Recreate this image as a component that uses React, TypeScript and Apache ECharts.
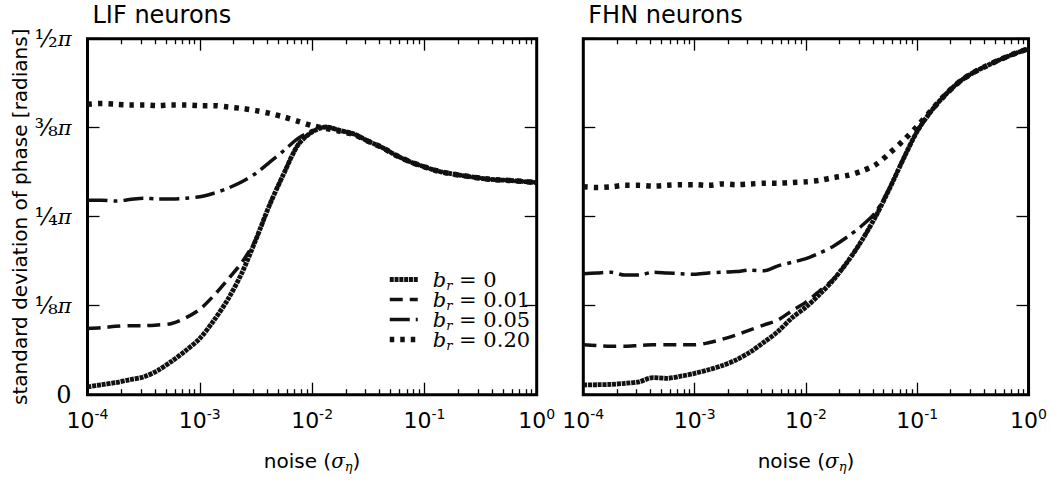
import React, { useEffect, useRef } from "react";
import * as echarts from "echarts";

// noise level sigma_eta (1/8-decade grid)
const noise = [
  1e-4, 1.33e-4, 1.78e-4, 2.37e-4, 3.16e-4, 4.22e-4, 5.62e-4, 7.5e-4,
  1e-3, 1.33e-3, 1.78e-3, 2.37e-3, 3.16e-3, 4.22e-3, 5.62e-3, 7.5e-3,
  1e-2, 1.33e-2, 1.78e-2, 2.37e-2, 3.16e-2, 4.22e-2, 5.62e-2, 7.5e-2,
  0.1, 0.133, 0.178, 0.237, 0.316, 0.422, 0.562, 0.75, 1,
];

// standard deviation of phase, in units of pi
const lifBr0 = [
  0.011, 0.014, 0.017, 0.021, 0.025, 0.034, 0.047, 0.062,
  0.079, 0.104, 0.134, 0.171, 0.218, 0.268, 0.311, 0.351,
  0.369, 0.376, 0.371, 0.366, 0.356, 0.347, 0.336, 0.327,
  0.32, 0.314, 0.31, 0.307, 0.304, 0.302, 0.301, 0.2995, 0.298,
];
const lifBr001 = [
  0.093, 0.094, 0.096, 0.097, 0.097, 0.098, 0.1, 0.108,
  0.12, 0.139, 0.162, 0.186, 0.218, 0.268, 0.311, 0.351,
  0.369, 0.376, 0.371, 0.366, 0.356, 0.347, 0.336, 0.327,
  0.32, 0.314, 0.31, 0.307, 0.304, 0.302, 0.301, 0.2995, 0.298,
];
const lifBr005 = [
  0.273, 0.273, 0.272, 0.274, 0.276, 0.275, 0.275, 0.276,
  0.278, 0.283, 0.29, 0.299, 0.311, 0.327, 0.343, 0.36,
  0.371, 0.376, 0.371, 0.366, 0.356, 0.347, 0.336, 0.327,
  0.32, 0.314, 0.31, 0.307, 0.304, 0.302, 0.301, 0.2995, 0.298,
];
const lifBr020 = [
  0.408, 0.409, 0.408, 0.407, 0.407, 0.406, 0.407, 0.407,
  0.406, 0.406, 0.404, 0.402, 0.399, 0.395, 0.39, 0.384,
  0.378, 0.374, 0.37, 0.365, 0.356, 0.347, 0.336, 0.327,
  0.32, 0.314, 0.31, 0.307, 0.304, 0.302, 0.301, 0.2995, 0.298,
];

const fhnBr0 = [
  0.0136, 0.014, 0.0145, 0.016, 0.018, 0.024, 0.023, 0.026,
  0.03, 0.035, 0.041, 0.049, 0.06, 0.074, 0.089, 0.108,
  0.123, 0.141, 0.162, 0.187, 0.216, 0.25, 0.289, 0.331,
  0.37, 0.398, 0.421, 0.439, 0.452, 0.462, 0.471, 0.479, 0.486,
];
const fhnBr001 = [
  0.07, 0.069, 0.068, 0.068, 0.069, 0.07, 0.07, 0.07,
  0.07, 0.073, 0.078, 0.084, 0.091, 0.098, 0.105, 0.118,
  0.13, 0.146, 0.163, 0.187, 0.216, 0.25, 0.289, 0.331,
  0.37, 0.398, 0.421, 0.439, 0.452, 0.462, 0.471, 0.479, 0.486,
];
const fhnBr005 = [
  0.17, 0.171, 0.172, 0.168, 0.168, 0.172, 0.171, 0.17,
  0.169, 0.171, 0.172, 0.173, 0.175, 0.174, 0.181, 0.186,
  0.191, 0.199, 0.209, 0.222, 0.237, 0.256, 0.29, 0.331,
  0.37, 0.398, 0.421, 0.439, 0.452, 0.462, 0.471, 0.479, 0.486,
];
const fhnBr020 = [
  0.292, 0.291, 0.292, 0.294, 0.294, 0.293, 0.294, 0.295,
  0.295, 0.294, 0.296, 0.295, 0.296, 0.297, 0.297, 0.298,
  0.299, 0.301, 0.305, 0.308, 0.314, 0.323, 0.339, 0.357,
  0.377, 0.399, 0.421, 0.439, 0.452, 0.462, 0.471, 0.479, 0.486,
];

const legendValues = ["0", "0.01", "0.05", "0.20"];
const panelTitles = ["LIF neurons", "FHN neurons"];
const decadeExponents = ["-4", "-3", "-2", "-1", "0"];
const yTickLabels = ["0", "⅛π", "¼π", "⅜π", "½π"];
const yAxisTitle = "standard deviation of phase [radians]";

const Y_MAX = 0.5;
const PX = Y_MAX / 356; // one pixel in y-axis units

// tick positions on the log noise axis
const majorTicks = [1e-3, 1e-2, 1e-1];
const minorTicks: number[] = [];
[1e-4, 1e-3, 1e-2, 1e-1].forEach((d) => {
  for (let n = 2; n <= 9; n++) minorTicks.push(+(n * d).toPrecision(3));
});

function tickLines() {
  const out: any[] = [];
  const add = (t: number, len: number) => {
    out.push([{ coord: [t, 0] }, { coord: [t, len * PX] }]);
    out.push([{ coord: [t, Y_MAX] }, { coord: [t, Y_MAX - len * PX] }]);
  };
  majorTicks.forEach((t) => add(t, 12));
  minorTicks.forEach((t) => add(t, 5.5));
  return out;
}

const SANS = "DejaVu Sans";
const SERIF = "DejaVu Serif";

const panels = [
  [lifBr0, lifBr001, lifBr005, lifBr020],
  [fhnBr0, fhnBr001, fhnBr005, fhnBr020],
];

const lineStyles: any[] = [
  { width: 4.8, type: [4, 0.8] },
  { width: 3.5, type: [13, 7] },
  { width: 3.5, type: [20, 6, 4, 6] },
  { width: 5.5, type: [4.5, 6] },
];

const gridBoxes = [
  { left: 87.5, top: 38.7, width: 449.2, height: 356 },
  { left: 583.3, top: 38.7, width: 450, height: 356 },
];

const seriesNames = legendValues.map((v) => `b_r = ${v}`);

export default function App() {
  const ref = useRef<HTMLDivElement>(null);
  useEffect(() => {
    document.body.style.margin = "0";
    if (!ref.current) return;
    const chart = echarts.init(ref.current, null, { renderer: "svg" });

    const xAxes: any[] = [];
    const yAxes: any[] = [];
    const series: any[] = [];

    gridBoxes.forEach((_, g) => {
      const majorBase = {
        type: "log",
        logBase: 10,
        gridIndex: g,
        min: 1e-4,
        max: 1,
        axisLine: { show: false, onZero: false },
        axisTick: { show: false },
        splitLine: { show: false },
        minorTick: { show: false },
      };
      xAxes.push({
        ...majorBase,
        position: "bottom",
        axisLabel: {
          show: true,
          margin: 12,
          color: "#000",
          formatter: (v: number) => `{b|10}{s|${decadeExponents[Math.round(Math.log10(v)) + 4]}}`,
          rich: {
            b: { fontFamily: SANS, fontSize: 22, color: "#000", lineHeight: 24 },
            s: { fontFamily: SANS, fontSize: 14, color: "#000", padding: [0, 0, 14, 0] },
          },
        },
        name: "{a|noise (}{s|σ}{e|η}{a|)}",
        nameLocation: "middle",
        nameGap: 55,
        nameTextStyle: {
          rich: {
            a: { fontFamily: SANS, fontSize: 20, color: "#000", lineHeight: 22 },
            s: { fontFamily: SERIF, fontStyle: "italic", fontSize: 20, color: "#000", lineHeight: 22 },
            e: { fontFamily: SERIF, fontStyle: "italic", fontSize: 13, color: "#000", lineHeight: 10, padding: [12, 0, 0, 0] },
          },
        },
      });
      xAxes.push({ ...majorBase, position: "top", axisLabel: { show: false } });

      const yBase = {
        type: "value",
        gridIndex: g,
        min: 0,
        max: Y_MAX,
        interval: 0.125,
        axisLine: { show: false, onZero: false },
        axisTick: { show: true, inside: true, length: 12, lineStyle: { color: "#000", width: 1.3 } },
        splitLine: { show: false },
      };
      yAxes.push({
        ...yBase,
        position: "left",
        axisLabel: {
          show: g === 0,
          margin: 16,
          color: "#000",
          formatter: (v: number) => {
            const s = yTickLabels[Math.round(v / 0.125)];
            if (s.length < 2) return `{f|${s}}`;
            return `{f|${s.slice(0, -1)}}{p|${s.slice(-1)}}`;
          },
          rich: {
            f: { fontFamily: SERIF, fontSize: 24, color: "#000" },
            p: { fontFamily: SERIF, fontStyle: "italic", fontSize: 21, color: "#000" },
          },
        },
        name: g === 0 ? yAxisTitle : "",
        nameLocation: "middle",
        nameGap: 58,
        nameTextStyle: { fontFamily: SANS, fontSize: 20, color: "#000" },
      });
      yAxes.push({ ...yBase, position: "right", axisLabel: { show: false } });

      panels[g].forEach((vals, i) => {
        const s: any = {
          type: "line",
          name: seriesNames[i],
          xAxisIndex: g * 2,
          yAxisIndex: g * 2,
          data: noise.map((x, j) => [x, vals[j]]),
          symbol: "none",
          smooth: 0.3,
          silent: true,
          lineStyle: { color: "#111", cap: "butt", ...lineStyles[i] },
          itemStyle: { color: "#111" },
        };
        if (i === 0) {
          // log-axis tick marks on the bottom and top spines
          s.markLine = {
            silent: true,
            animation: false,
            symbol: ["none", "none"],
            label: { show: false },
            emphasis: { disabled: true },
            lineStyle: { color: "#000", width: 1.3, type: "solid", cap: "butt" },
            data: tickLines(),
          };
        }
        series.push(s);
      });
    });

    chart.setOption({
      animation: false,
      backgroundColor: "#fff",
      title: panelTitles.map((t, g) => ({
        text: t,
        left: gridBoxes[g].left + 5,
        top: 2,
        padding: 0,
        textStyle: { fontFamily: SANS, fontSize: 24, fontWeight: "normal", color: "#000", lineHeight: 26 },
      })),
      grid: gridBoxes.map((b) => ({
        ...b,
        show: true,
        borderColor: "#000",
        borderWidth: 3,
        backgroundColor: "transparent",
        containLabel: false,
      })),
      legend: {
        orient: "vertical",
        left: 382,
        top: 262,
        itemWidth: 28,
        itemHeight: 10,
        itemGap: -5,
        selectedMode: false,
        data: seriesNames,
        itemStyle: { color: "rgba(0,0,0,0)", borderWidth: 0, opacity: 0 },
        lineStyle: { width: "inherit", type: "inherit", color: "inherit" },
        formatter: (name: string) => {
          const i = seriesNames.indexOf(name);
          return `{b|b}{r|r}{t| = ${legendValues[i]}}`;
        },
        textStyle: {
          lineHeight: 20,
          rich: {
            b: { fontFamily: SERIF, fontStyle: "italic", fontSize: 21, color: "#000", lineHeight: 20, padding: [0, 0, 0, 10] },
            r: { fontFamily: SERIF, fontStyle: "italic", fontSize: 13, color: "#000", lineHeight: 10, padding: [12, 0, 0, 0] },
            t: { fontFamily: SERIF, fontSize: 21, color: "#000", lineHeight: 20 },
          },
        },
      },
      xAxis: xAxes,
      yAxis: yAxes,
      series,
    });
    return () => chart.dispose();
  }, []);
  return <div ref={ref} style={{ width: 1050, height: 482 }} />;
}
